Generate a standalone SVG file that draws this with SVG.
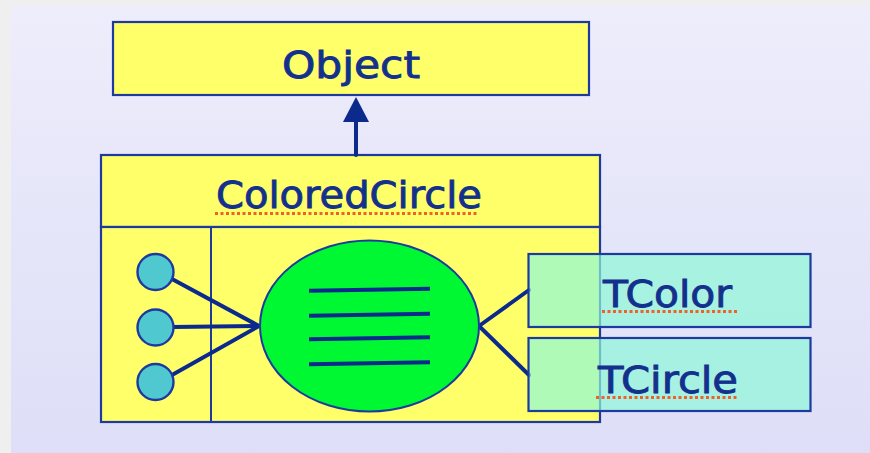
<svg xmlns="http://www.w3.org/2000/svg" width="870" height="453" viewBox="0 0 870 453">
  <defs>
    <linearGradient id="bg" x1="0" y1="0" x2="0" y2="1">
      <stop offset="0" stop-color="#ededfb"/>
      <stop offset="1" stop-color="#dedef8"/>
    </linearGradient>
    <style>
      .box { fill: #ffff6a; stroke: #1f3a9e; stroke-width: 2.2; }
      .part { fill: #8ff8d8; fill-opacity: 0.7; stroke: #1f3a9e; stroke-width: 2.2; }
      .lbl { font-family: "DejaVu Sans", "Liberation Sans", sans-serif; font-size: 38px; fill: #13308c; stroke: #13308c; stroke-width: 0.9; text-anchor: middle; }
      .wire { stroke: #0c2a8c; stroke-width: 4; fill: none; stroke-linecap: round; }
      .squig { stroke: #f0602a; stroke-width: 3; stroke-dasharray: 3 2.5; fill: none; }
      .dot { fill: #50c8d0; stroke: #1f3a9e; stroke-width: 2.4; }
    </style>
  </defs>
  <rect x="0" y="0" width="870" height="453" fill="#efefef"/>
  <rect x="11" y="6" width="859" height="447" fill="url(#bg)"/>

  <g id="node-object">
    <rect class="box" x="113" y="22" width="476" height="73"/>
    <text class="lbl" x="351" y="78" textLength="138" lengthAdjust="spacingAndGlyphs">Object</text>
  </g>

  <g id="node-coloredcircle">
    <rect class="box" x="101" y="155" width="499" height="72"/>
    <rect class="box" x="101" y="227" width="499" height="195"/>
    <line x1="211" y1="227" x2="211" y2="422" stroke="#1f3a9e" stroke-width="2"/>
    <text class="lbl" x="349" y="208" textLength="266" lengthAdjust="spacingAndGlyphs">ColoredCircle</text>
    <line class="squig" x1="215" y1="213.5" x2="479" y2="213.5"/>
  </g>

  <g id="connectors">
    <line class="wire" x1="356" y1="155" x2="356" y2="118" stroke-linecap="butt"/>
    <polygon points="356,97 343,122 369,122" fill="#0c2a8c"/>
    <line class="wire" x1="172" y1="279" x2="259" y2="326"/>
    <line class="wire" x1="172" y1="327" x2="259" y2="326"/>
    <line class="wire" x1="172" y1="375" x2="259" y2="326"/>
    <line class="wire" x1="479" y1="326" x2="529" y2="290"/>
    <line class="wire" x1="479" y1="326" x2="529" y2="375"/>
  </g>

  <g id="node-ports">
    <circle class="dot" cx="155.5" cy="272" r="18"/>
    <circle class="dot" cx="155.5" cy="327.5" r="18"/>
    <circle class="dot" cx="155.5" cy="382" r="18"/>
  </g>

  <g id="node-core">
    <ellipse cx="369.5" cy="326" rx="109.5" ry="85.5" fill="#00f832" stroke="#1f3a9e" stroke-width="2"/>
    <g stroke="#0c2a8c" stroke-width="4">
      <line x1="309" y1="290.7" x2="430" y2="288.7"/>
      <line x1="309" y1="315.7" x2="430" y2="313.7"/>
      <line x1="309" y1="339.3" x2="430" y2="337.3"/>
      <line x1="309" y1="364.3" x2="430" y2="362.3"/>
    </g>
  </g>

  <g id="node-tcolor">
    <rect class="part" x="528.5" y="254" width="282" height="73"/>
    <text class="lbl" x="667.5" y="306.5" textLength="129" lengthAdjust="spacingAndGlyphs">TColor</text>
    <line class="squig" x1="602" y1="311.5" x2="737" y2="311.5"/>
  </g>

  <g id="node-tcircle">
    <rect class="part" x="528.5" y="338" width="282" height="73"/>
    <text class="lbl" x="668" y="393" textLength="140" lengthAdjust="spacingAndGlyphs">TCircle</text>
    <line class="squig" x1="596" y1="397.5" x2="738" y2="397.5"/>
  </g>
</svg>
